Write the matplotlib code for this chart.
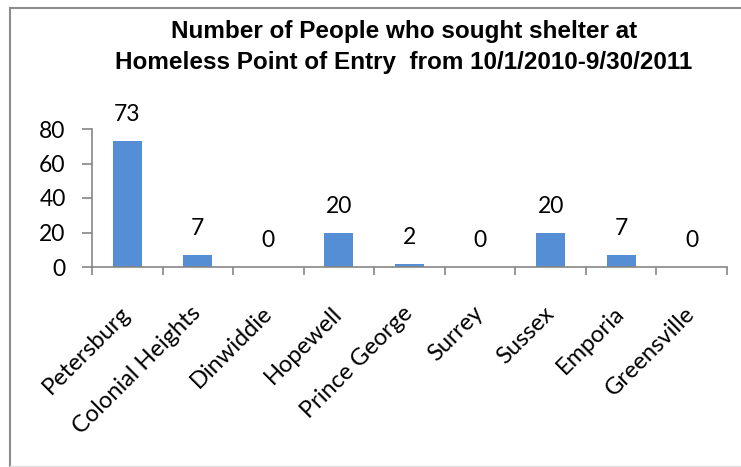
import matplotlib
matplotlib.use("Agg")
import matplotlib.pyplot as plt
from matplotlib.lines import Line2D

categories = ["Petersburg", "Colonial Heights", "Dinwiddie", "Hopewell", "Prince George",
              "Surrey", "Sussex", "Emporia", "Greensville"]
values = [73, 7, 0, 20, 2, 0, 20, 7, 0]
yticks = [0, 20, 40, 60, 80]
title = "Number of People who sought shelter at\nHomeless Point of Entry  from 10/1/2010-9/30/2011"

W, H = 741, 467
fig = plt.figure(figsize=(W / 100, H / 100), dpi=100)
ax = fig.add_axes([92 / W, 1 - 267 / H, (727 - 92) / W, (267 - 129) / H])

body = ["Lato", "DejaVu Sans"]
bar_color = "#558ED5"
axis_color = "#868686"

x = list(range(len(categories)))
ax.bar(x, values, width=0.41, color=bar_color)
ax.set_xlim(-0.5, len(categories) - 0.5)
ax.set_ylim(0, 80)
ax.set_yticks(yticks)
ax.set_yticklabels([str(v) for v in yticks], family=body, fontsize=16.5)

ax.set_xticks([i - 0.5 for i in range(len(categories) + 1)])
ax.set_xticklabels([])
ax.tick_params(axis="x", length=6, width=1.2, color=axis_color, direction="out")
ax.tick_params(axis="y", length=7, width=1.2, color=axis_color, direction="out", pad=12)

for i, c in enumerate(categories):
    ax.annotate(c, xy=(i, 0), xycoords="data", xytext=(0, -31), textcoords="offset points",
                rotation=45, ha="right", va="center", rotation_mode="anchor",
                family=body, fontsize=17)

for i, v in enumerate(values):
    ax.annotate(str(v), xy=(i, v), xytext=(0, 19), textcoords="offset points",
                ha="center", va="center", family=body, fontsize=16.5)

for s in ["top", "right"]:
    ax.spines[s].set_visible(False)
for s in ["left", "bottom"]:
    ax.spines[s].set_color(axis_color)
    ax.spines[s].set_linewidth(1.2)

fig.text(404 / W, 1 - 47 / H, title, ha="center", va="center",
         family=["Liberation Sans Narrow", "Liberation Sans", "DejaVu Sans"],
         fontweight="bold", fontsize=17.5, linespacing=1.4)

# outer frame
fig.add_artist(Line2D([9.5 / W, 9.5 / W], [1 - 8 / H, 0], transform=fig.transFigure,
                      color="#8c8c8c", lw=1.5))
fig.add_artist(Line2D([9.5 / W, 1], [1 - 8 / H, 1 - 8 / H], transform=fig.transFigure,
                      color="#8c8c8c", lw=1.5))
fig.add_artist(Line2D([9.5 / W, 1], [1 - 465.5 / H, 1 - 465.5 / H], transform=fig.transFigure,
                      color="#e0e0e0", lw=1))

fig.savefig("out.png", dpi=100)
